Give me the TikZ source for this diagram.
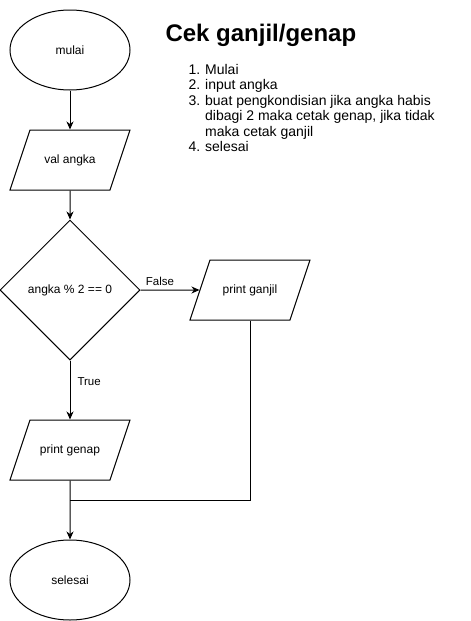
\documentclass[tikz,border=0pt]{standalone}
\usepackage{fontspec}
\setmainfont{Liberation Sans}
\usetikzlibrary{positioning, shapes.geometric, arrows.meta}

\begin{document}
\begin{tikzpicture}[x=1pt, y=-1pt, node distance=110pt, line width=1pt,
    >={Stealth[length=8pt, width=7pt, inset=2.5pt]},
    terminal/.style={draw, ellipse, minimum width=120pt, minimum height=80pt, inner sep=0pt, font=\fontsize{12}{14}\selectfont},
    io/.style={draw, trapezium, trapezium left angle=71.57, trapezium right angle=108.43, trapezium stretches body=true,
        text height=8.5pt, text depth=2.5pt, inner xsep=0pt, inner ysep=24.5pt, minimum width=120pt, minimum height=60pt, font=\fontsize{12}{14}\selectfont},
    decision/.style={draw, diamond, minimum width=140pt, minimum height=140pt, inner sep=0pt, font=\fontsize{12}{14}\selectfont},
    edgetext/.style={inner sep=4pt, font=\fontsize{11.5}{13}\selectfont}]
    \useasboundingbox (0,0) rectangle (471,621);

    % Definisi blok
    \node [terminal] (block1) at (70,50) {mulai};
    \node [io, below of=block1] (block2) {val angka};
    \node [decision, below of=block2, node distance=130pt] (block3) {angka \% 2 == 0};
    \node [io, right of=block3, node distance=180pt] (block4) {print ganjil};
    \node [io, below of=block3, node distance=160pt] (block5) {print genap};
    \node [terminal, below of=block5, node distance=130pt] (block6) {selesai};
    \coordinate [below of=block5, node distance=50pt] (join1);

    % Judul dan langkah
    \node [anchor=base west, inner sep=0pt, font=\fontsize{24}{28}\selectfont\bfseries] (title) at (165,41) {Cek ganjil/genap};
    \node [anchor=base west, inner sep=0pt, font=\fontsize{14}{15.5}\selectfont] (steps) at (188,74) {%
        \begin{tabular}[t]{@{}l@{\hspace{5pt}}l@{}}
            1. & Mulai\\
            2. & input angka\\
            3. & buat pengkondisian jika angka habis\\
               & dibagi 2 maka cetak genap, jika tidak\\
               & maka cetak ganjil\\
            4. & selesai
        \end{tabular}};

    % Panah
    \draw [->] (block1) -- (block2);
    \draw [->] (block2) -- (block3);
    \draw [->] (block3) -- node [edgetext, pos=0.33, above] {False} (block4);
    \draw [->] (block3) -- node [edgetext, pos=0.35, right, xshift=3pt] {True} (block5);
    \draw (block4) |- (join1);
    \draw [->] (block5) -- (block6);
\end{tikzpicture}
\end{document}
